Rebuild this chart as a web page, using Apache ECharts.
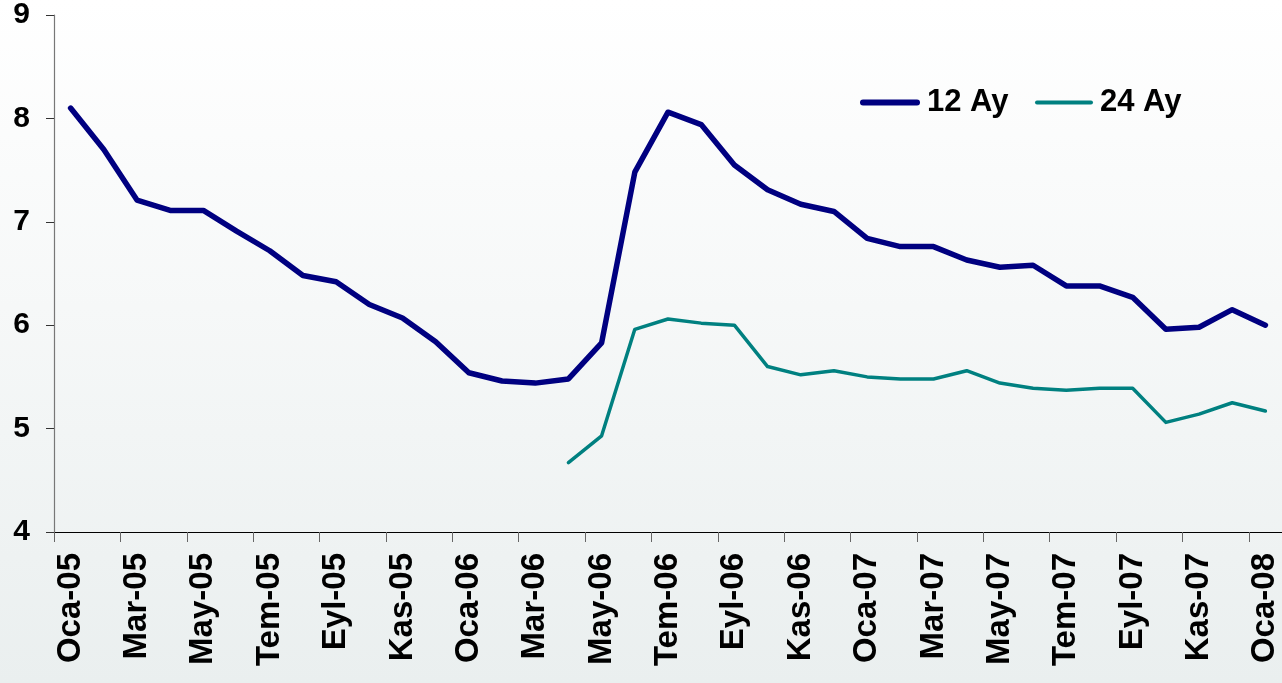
<!DOCTYPE html>
<html>
<head>
<meta charset="utf-8">
<script src="https://cdn.jsdelivr.net/npm/echarts@6/dist/echarts.min.js"></script>
<style>
  html, body { margin: 0; padding: 0; }
  body { width: 1282px; height: 683px; background: linear-gradient(to bottom, #ffffff 0%, #f6f8f8 45%, #eaefef 100%); }
  #chart { width: 1282px; height: 683px; }
</style>
</head>
<body>
<div id="chart"></div>
<script>
const categories = [
  'Oca-05','Şub-05','Mar-05','Nis-05','May-05','Haz-05','Tem-05','Ağu-05','Eyl-05','Eki-05','Kas-05','Ara-05',
  'Oca-06','Şub-06','Mar-06','Nis-06','May-06','Haz-06','Tem-06','Ağu-06','Eyl-06','Eki-06','Kas-06','Ara-06',
  'Oca-07','Şub-07','Mar-07','Nis-07','May-07','Haz-07','Tem-07','Ağu-07','Eyl-07','Eki-07','Kas-07','Ara-07',
  'Oca-08'
];
const seriesNames = ['12 Ay', '24 Ay'];
const ay12 = [
  8.10, 7.70, 7.21, 7.11, 7.11, 6.91, 6.72, 6.48, 6.42, 6.20, 6.07, 5.84,
  5.54, 5.46, 5.44, 5.48, 5.83, 7.48, 8.06, 7.94, 7.55, 7.31, 7.17, 7.10,
  6.84, 6.76, 6.76, 6.63, 6.56, 6.58, 6.38, 6.38, 6.27, 5.96, 5.98, 6.15,
  6.00
];
const ay24 = [
  null, null, null, null, null, null, null, null, null, null, null, null,
  null, null, null, 4.67, 4.93, 5.96, 6.06, 6.02, 6.00, 5.60, 5.52, 5.56,
  5.50, 5.48, 5.48, 5.56, 5.44, 5.39, 5.37, 5.39, 5.39, 5.06, 5.14, 5.25,
  5.17
];
const yTicks = { min: 4, max: 9, interval: 1 };

const FONT = "'Liberation Sans', Arial, sans-serif";
const legendText = { fontFamily: FONT, fontWeight: 'bold', fontSize: 31, color: '#000', padding: [0, 0, 0, 2] };
const chart = echarts.init(document.getElementById('chart'), null, { renderer: 'canvas' });
chart.setOption({
  backgroundColor: 'transparent',
  animation: false,
  grid: { left: 54, right: -6, top: 15, bottom: 151, containLabel: false },
  legend: [
    {
      left: 860, top: 87, padding: 0,
      icon: 'path://M3,0 H57 A3,3 0 0 1 57,6 H3 A3,3 0 0 1 3,0 Z',
      itemWidth: 60, itemHeight: 6,
      textStyle: legendText,
      data: [seriesNames[0]]
    },
    {
      left: 1035, top: 87, padding: 0,
      icon: 'path://M2,0 H56 A2,2 0 0 1 56,4 H2 A2,2 0 0 1 2,0 Z',
      itemWidth: 58, itemHeight: 4,
      textStyle: legendText,
      data: [seriesNames[1]]
    }
  ],
  xAxis: {
    type: 'category',
    data: categories,
    boundaryGap: true,
    axisLine: { lineStyle: { color: '#000', width: 1.2 } },
    axisTick: { show: true, interval: 1, length: 10, lineStyle: { color: '#666' } },
    axisLabel: {
      interval: 1, rotate: 90, margin: 21,
      fontFamily: FONT, fontWeight: 'bold', fontSize: 33, color: '#000'
    },
    splitLine: { show: false }
  },
  yAxis: {
    type: 'value',
    min: yTicks.min, max: yTicks.max, interval: yTicks.interval,
    axisLine: { show: true, lineStyle: { color: '#777', width: 1.2 } },
    axisTick: { show: true, length: 8, lineStyle: { color: '#333' } },
    axisLabel: { margin: 24, fontFamily: FONT, fontWeight: 'bold', fontSize: 30, color: '#000' },
    splitLine: { show: false }
  },
  series: [
    {
      name: seriesNames[0], type: 'line', data: ay12,
      symbol: 'none', smooth: false,
      lineStyle: { color: '#000080', width: 5.5, cap: 'round', join: 'round' },
      itemStyle: { color: '#000080' }
    },
    {
      name: seriesNames[1], type: 'line', data: ay24,
      symbol: 'none', smooth: false, connectNulls: false,
      lineStyle: { color: '#008080', width: 3.5, cap: 'round', join: 'round' },
      itemStyle: { color: '#008080' }
    }
  ]
});
</script>
</body>
</html>
